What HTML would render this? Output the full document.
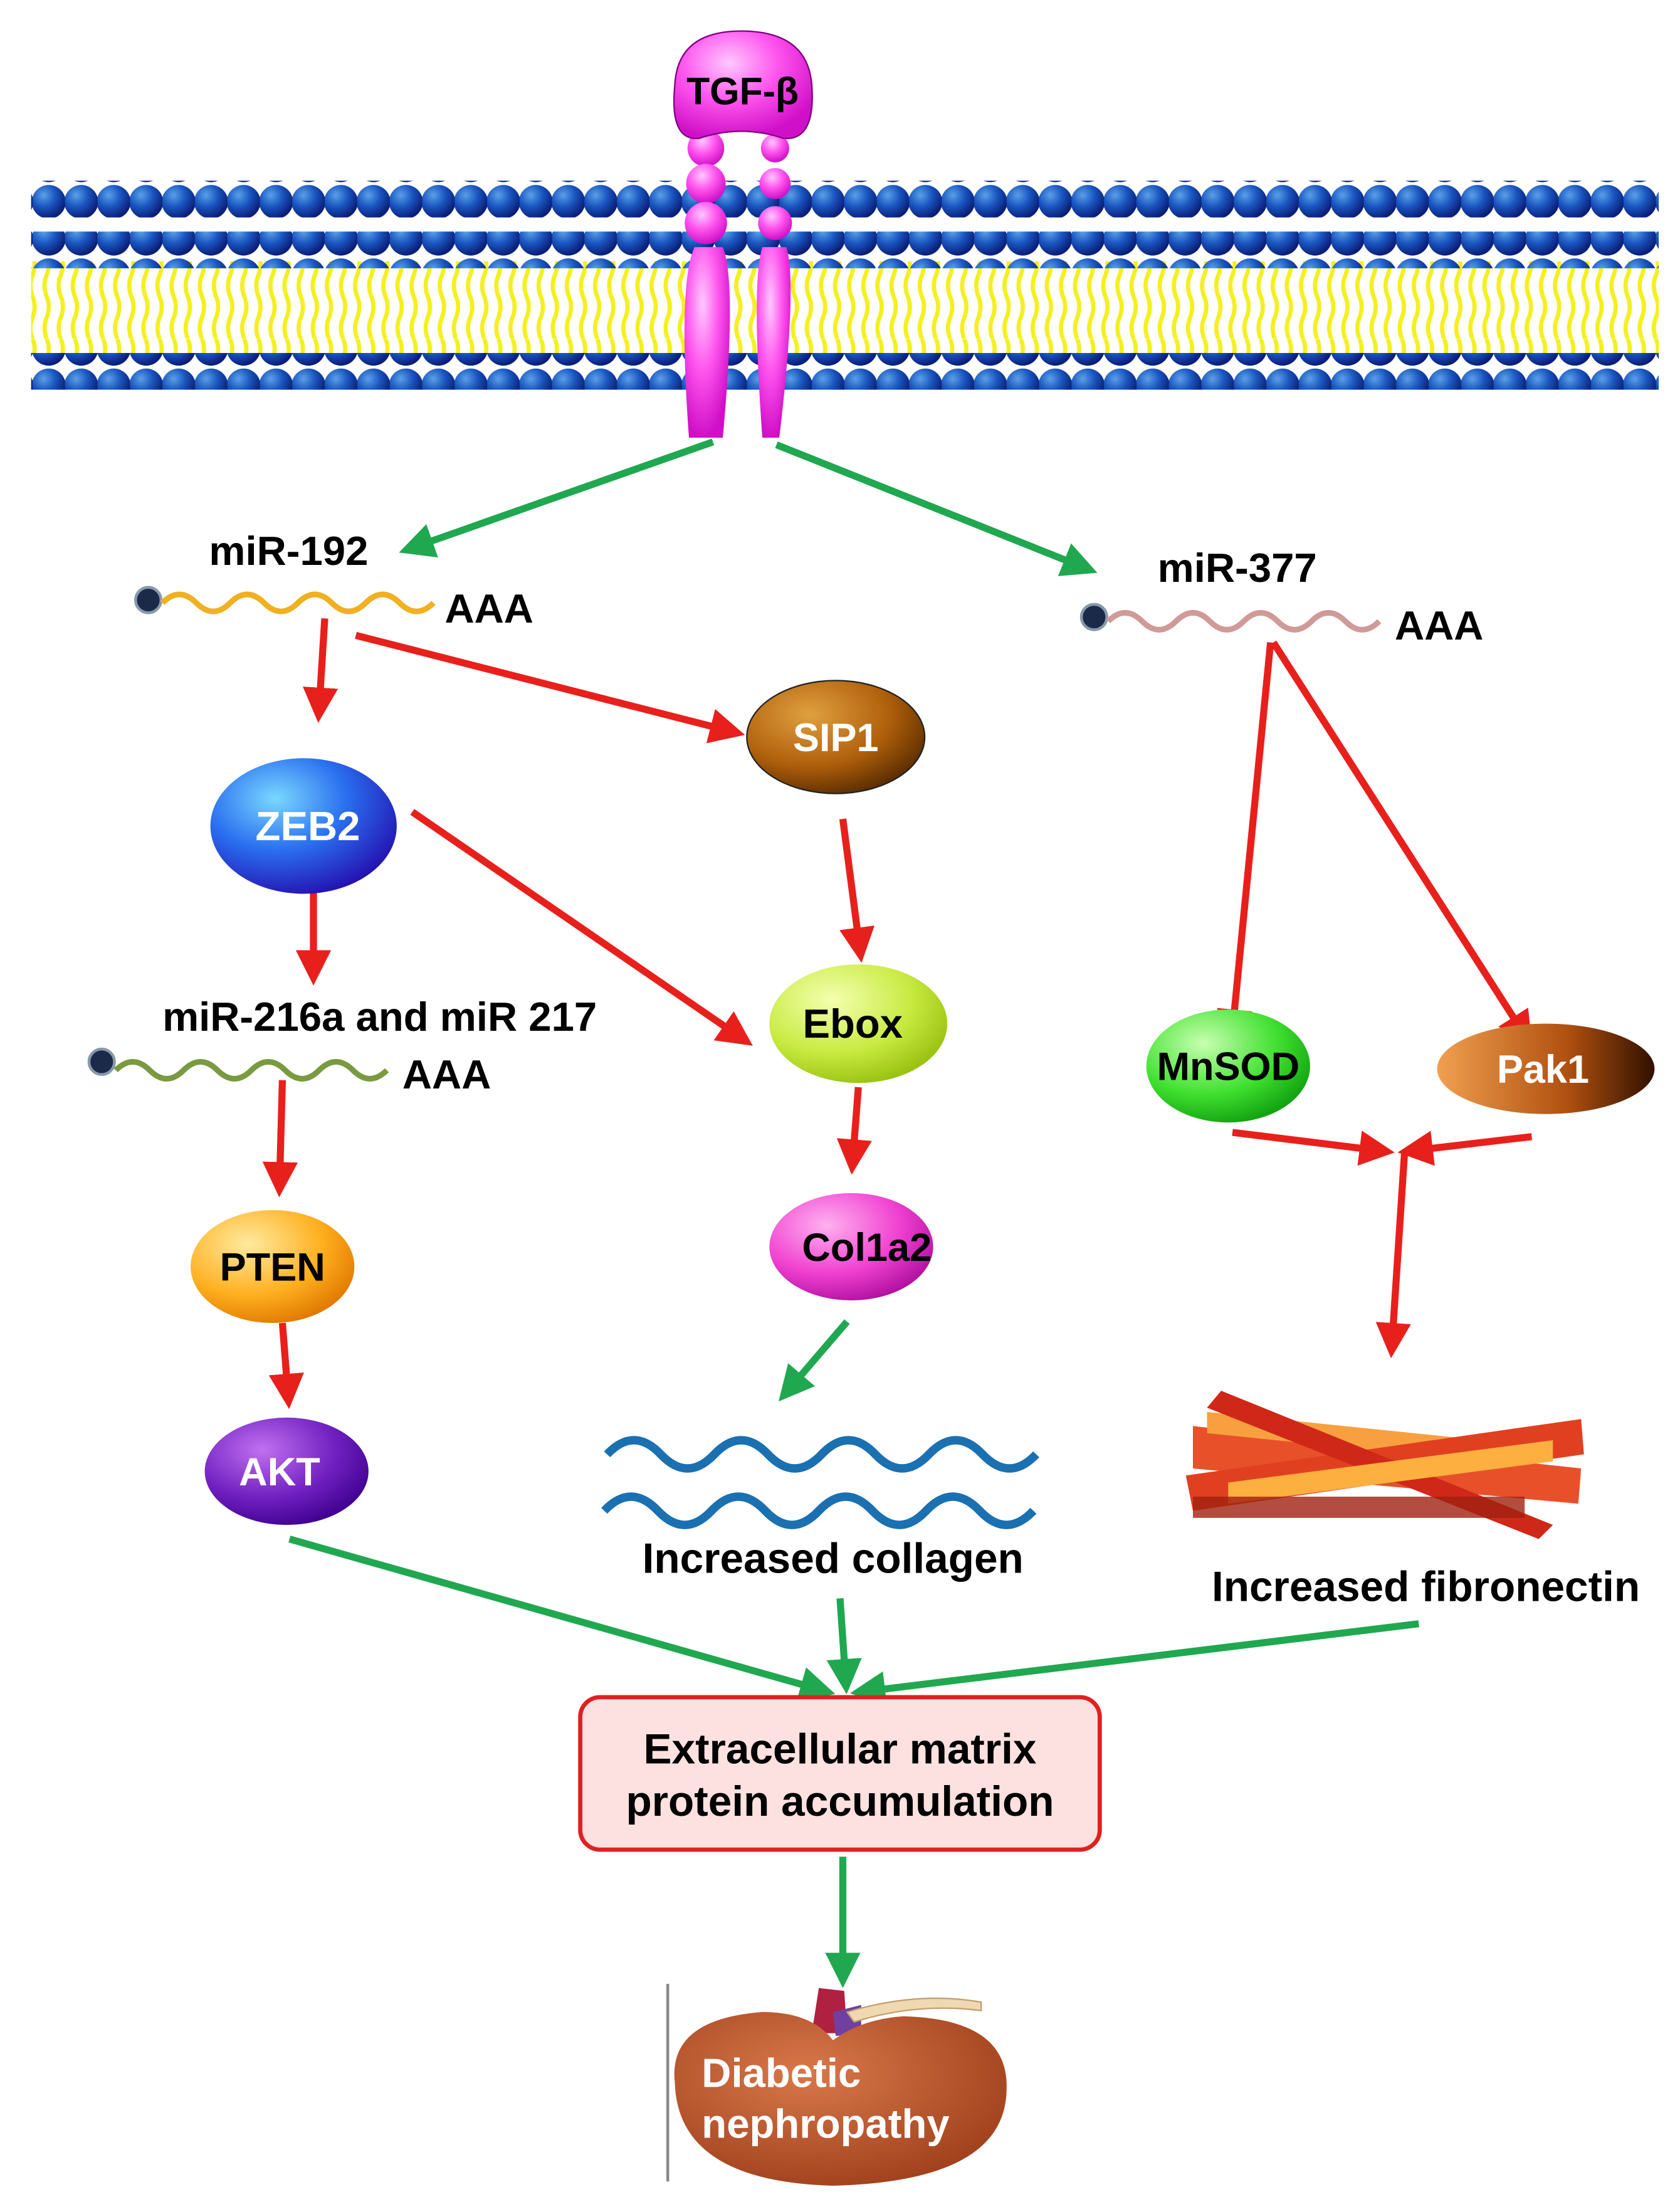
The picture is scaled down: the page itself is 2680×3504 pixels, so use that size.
<!DOCTYPE html>
<html><head><meta charset="utf-8"><style>
html,body{margin:0;padding:0;background:#fff;}
svg{display:block;}
text{font-family:"Liberation Sans",sans-serif;font-weight:bold;}
</style></head><body>
<svg width="2680" height="3504" viewBox="0 0 1190 1556" xmlns="http://www.w3.org/2000/svg">
<defs>
<radialGradient id="head" cx="35%" cy="30%" r="70%"><stop offset="0" stop-color="#5aa0e8"/><stop offset="0.5" stop-color="#1a56c0"/><stop offset="1" stop-color="#0a1e78"/></radialGradient>
<radialGradient id="pink" cx="40%" cy="30%" r="70%"><stop offset="0" stop-color="#ffc8ff"/><stop offset="0.5" stop-color="#ff55ee"/><stop offset="1" stop-color="#d010c8"/></radialGradient>
<radialGradient id="gBlue" cx="35%" cy="30%" r="75%"><stop offset="0" stop-color="#7ad8ff"/><stop offset="0.5" stop-color="#2a70f0"/><stop offset="1" stop-color="#2410b0"/></radialGradient>
<radialGradient id="gBrown" cx="35%" cy="30%" r="75%"><stop offset="0" stop-color="#e0a040"/><stop offset="0.6" stop-color="#b0600c"/><stop offset="1" stop-color="#5a2c00"/></radialGradient>
<radialGradient id="gYG" cx="35%" cy="30%" r="75%"><stop offset="0" stop-color="#f4ffb0"/><stop offset="0.6" stop-color="#c8ea40"/><stop offset="1" stop-color="#98c010"/></radialGradient>
<radialGradient id="gOr" cx="35%" cy="30%" r="75%"><stop offset="0" stop-color="#ffeaa0"/><stop offset="0.6" stop-color="#ffb020"/><stop offset="1" stop-color="#e07800"/></radialGradient>
<radialGradient id="gPur" cx="35%" cy="30%" r="75%"><stop offset="0" stop-color="#c070f0"/><stop offset="0.6" stop-color="#7020c0"/><stop offset="1" stop-color="#400090"/></radialGradient>
<radialGradient id="gMag" cx="35%" cy="30%" r="75%"><stop offset="0" stop-color="#ffb0f0"/><stop offset="0.6" stop-color="#f040d0"/><stop offset="1" stop-color="#b010a0"/></radialGradient>
<radialGradient id="gGr" cx="35%" cy="30%" r="75%"><stop offset="0" stop-color="#c8ffb0"/><stop offset="0.6" stop-color="#40e030"/><stop offset="1" stop-color="#10a010"/></radialGradient>
<linearGradient id="gPak" x1="0" x2="1"><stop offset="0" stop-color="#f0a050"/><stop offset="0.6" stop-color="#b05010"/><stop offset="1" stop-color="#301000"/></linearGradient>
<radialGradient id="kid" cx="40%" cy="35%" r="70%"><stop offset="0" stop-color="#d8784a"/><stop offset="1" stop-color="#a0401c"/></radialGradient>
<pattern id="tails" width="10" height="60" patternUnits="userSpaceOnUse"><path d="M3 0 q3 7 0 15 q-3 7 0 15 q3 7 0 15 q-3 7 0 15" stroke="#f4f020" stroke-width="3" fill="none"/></pattern>
<pattern id="row" width="23" height="26" patternUnits="userSpaceOnUse"><circle cx="11.5" cy="13" r="12" fill="url(#head)"/></pattern>
<marker id="ar" markerWidth="5" markerHeight="5" refX="3" refY="2.5" orient="auto" markerUnits="strokeWidth"><path d="M0,0 L5,2.5 L0,5 z" fill="#e8201c"/></marker>
<marker id="ag" markerWidth="5" markerHeight="5" refX="3" refY="2.5" orient="auto" markerUnits="strokeWidth"><path d="M0,0 L5,2.5 L0,5 z" fill="#20a850"/></marker>
</defs>

<!-- membrane -->
<rect x="22" y="185" width="1153" height="65" fill="url(#tails)"/>
<rect x="22" y="128" width="1153" height="26" fill="url(#row)"/>
<rect x="22" y="164" width="1153" height="26" fill="url(#row)"/>
<rect x="22" y="250" width="1153" height="26" fill="url(#row)"/>

<!-- receptor -->
<path d="M488 310 Q480 200 492 175 L512 175 Q522 200 512 310 Z" fill="url(#pink)"/>
<path d="M540 310 Q532 200 540 175 L557 175 Q565 200 552 310 Z" fill="url(#pink)"/>
<circle cx="500" cy="105" r="13" fill="url(#pink)"/><circle cx="500" cy="130" r="14" fill="url(#pink)"/><circle cx="500" cy="158" r="15" fill="url(#pink)"/>
<circle cx="549" cy="105" r="10" fill="url(#pink)"/><circle cx="549" cy="130" r="11" fill="url(#pink)"/><circle cx="549" cy="158" r="12" fill="url(#pink)"/>
<path d="M478 60 Q480 22 525 22 Q572 22 575 60 Q578 100 555 98 Q525 88 495 98 Q474 100 478 60 Z" fill="url(#pink)" stroke="#800080" stroke-width="1"/>
<text x="526" y="74" font-size="27" text-anchor="middle">TGF-β</text>

<!-- green top arrows -->
<g stroke="#20a850" stroke-width="5" fill="none">
<line x1="505" y1="313" x2="292" y2="388" marker-end="url(#ag)"/>
<line x1="550" y1="315" x2="768" y2="402" marker-end="url(#ag)"/>
</g>

<!-- miR-192 -->
<text x="148" y="400" font-size="29">miR-192</text>
<circle cx="105" cy="425" r="9" fill="#1a2a48" stroke="#8899aa" stroke-width="2"/>
<path d="M115 427 q12 -12 24 0 t24 0 t24 0 t24 0 t24 0 t24 0 t24 0 t24 0" stroke="#f0b020" stroke-width="4" fill="none"/>
<text x="315" y="441" font-size="29">AAA</text>

<!-- miR-377 -->
<text x="820" y="412" font-size="29">miR-377</text>
<circle cx="775" cy="437" r="9" fill="#1a2a48" stroke="#8899aa" stroke-width="2"/>
<path d="M785 440 q12 -12 24 0 t24 0 t24 0 t24 0 t24 0 t24 0 t24 0 t24 0" stroke="#d09a98" stroke-width="4" fill="none"/>
<text x="988" y="453" font-size="29">AAA</text>

<!-- miR-216a -->
<text x="115" y="730" font-size="29">miR-216a and miR 217</text>
<circle cx="72" cy="752" r="9" fill="#1a2a48" stroke="#8899aa" stroke-width="2"/>
<path d="M82 758 q12 -12 24 0 t24 0 t24 0 t24 0 t24 0 t24 0 t24 0 t24 0" stroke="#7a9a40" stroke-width="4" fill="none"/>
<text x="285" y="771" font-size="29">AAA</text>

<!-- red arrows -->
<g stroke="#e8201c" stroke-width="5" fill="none" marker-end="url(#ar)">
<line x1="230" y1="438" x2="226" y2="502"/>
<line x1="252" y1="450" x2="518" y2="518"/>
<line x1="222" y1="632" x2="222" y2="688"/>
<line x1="292" y1="575" x2="525" y2="735"/>
<line x1="597" y1="580" x2="609" y2="672"/>
<line x1="200" y1="765" x2="198" y2="838"/>
<line x1="200" y1="937" x2="204" y2="988"/>
<line x1="608" y1="770" x2="604" y2="822"/>
<line x1="900" y1="455" x2="873" y2="730"/>
<line x1="902" y1="455" x2="1080" y2="733"/>
<line x1="873" y1="802" x2="978" y2="815"/>
<line x1="1085" y1="805" x2="1000" y2="815"/>
<line x1="995" y1="815" x2="986" y2="952"/>
</g>

<!-- nodes -->
<ellipse cx="215" cy="585" rx="66" ry="48" fill="url(#gBlue)"/>
<text x="218" y="595" font-size="29" fill="#fff" text-anchor="middle">ZEB2</text>
<ellipse cx="592" cy="522" rx="63" ry="40" fill="url(#gBrown)" stroke="#222" stroke-width="1"/>
<text x="592" y="532" font-size="28" fill="#fff" text-anchor="middle">SIP1</text>
<ellipse cx="608" cy="725" rx="63" ry="42" fill="url(#gYG)"/>
<text x="604" y="735" font-size="29" text-anchor="middle">Ebox</text>
<ellipse cx="193" cy="897" rx="58" ry="40" fill="url(#gOr)"/>
<text x="193" y="907" font-size="28" text-anchor="middle">PTEN</text>
<ellipse cx="203" cy="1042" rx="58" ry="38" fill="url(#gPur)"/>
<text x="198" y="1052" font-size="28" fill="#fff" text-anchor="middle">AKT</text>
<ellipse cx="603" cy="883" rx="58" ry="38" fill="url(#gMag)"/>
<text x="614" y="893" font-size="28" text-anchor="middle">Col1a2</text>
<ellipse cx="870" cy="755" rx="58" ry="40" fill="url(#gGr)"/>
<text x="870" y="765" font-size="28" text-anchor="middle">MnSOD</text>
<ellipse cx="1095" cy="757" rx="77" ry="32" fill="url(#gPak)"/>
<text x="1093" y="767" font-size="28" fill="#fff" text-anchor="middle">Pak1</text>

<!-- green arrow to collagen -->
<line x1="600" y1="936" x2="558" y2="985" stroke="#20a850" stroke-width="5" marker-end="url(#ag)"/>

<!-- collagen -->
<g stroke="#1a70b0" stroke-width="6" fill="none">
<path d="M430 1030 q19 -20 38 0 t38 0 t38 0 t38 0 t38 0 t38 0 t38 0 t38 0"/>
<path d="M428 1070 q19 -20 38 0 t38 0 t38 0 t38 0 t38 0 t38 0 t38 0 t38 0"/>
</g>
<text x="590" y="1114" font-size="30" text-anchor="middle">Increased collagen</text>

<!-- fibronectin -->
<g>
<path d="M845 1010 L1120 1040 L1118 1065 L845 1040 Z" fill="#e8502a"/>
<path d="M855 1000 L1050 1020 L1050 1035 L855 1015 Z" fill="#f8a040"/>
<path d="M840 1045 L1120 1005 L1122 1030 L845 1070 Z" fill="#e04020"/>
<path d="M865 985 L1100 1080 L1090 1090 L855 997 Z" fill="#d02818"/>
<path d="M870 1050 L1100 1020 L1100 1035 L870 1065 Z" fill="#fdb040"/>
<path d="M845 1060 L1080 1060 L1080 1075 L845 1075 Z" fill="#a02010" opacity="0.8"/>
</g>
<text x="1010" y="1134" font-size="30" text-anchor="middle">Increased fibronectin</text>

<!-- green to box -->
<g stroke="#20a850" stroke-width="5" fill="none" marker-end="url(#ag)">
<line x1="205" y1="1090" x2="582" y2="1197"/>
<line x1="595" y1="1132" x2="599" y2="1190"/>
<line x1="1005" y1="1150" x2="612" y2="1198"/>
<line x1="597" y1="1315" x2="597" y2="1398"/>
</g>

<rect x="411" y="1202" width="368" height="108" rx="14" fill="#fde0e0" stroke="#e02020" stroke-width="3"/>
<text x="595" y="1249" font-size="30" text-anchor="middle">Extracellular matrix</text>
<text x="595" y="1286" font-size="30" text-anchor="middle">protein accumulation</text>

<!-- kidney -->
<line x1="473" y1="1405" x2="473" y2="1545" stroke="#888" stroke-width="2"/>
<path d="M580 1408 L575 1440 L600 1440 L598 1410 Z" fill="#b02040"/>
<path d="M590 1425 L610 1420 L610 1440 L592 1442 Z" fill="#7040a0"/>
<path d="M600 1425 Q650 1410 695 1418 L695 1424 Q650 1418 605 1432 Z" fill="#f0d8b0" stroke="#c0a070"/>
<path d="M478 1475 Q473 1430 540 1425 Q575 1425 590 1445 Q610 1430 640 1428 Q715 1430 713 1480 Q712 1545 590 1548 Q480 1545 478 1475 Z" fill="url(#kid)"/>
<text x="497" y="1478" font-size="29" fill="#fff">Diabetic</text>
<text x="497" y="1514" font-size="29" fill="#fff">nephropathy</text>
</svg>
</body></html>
